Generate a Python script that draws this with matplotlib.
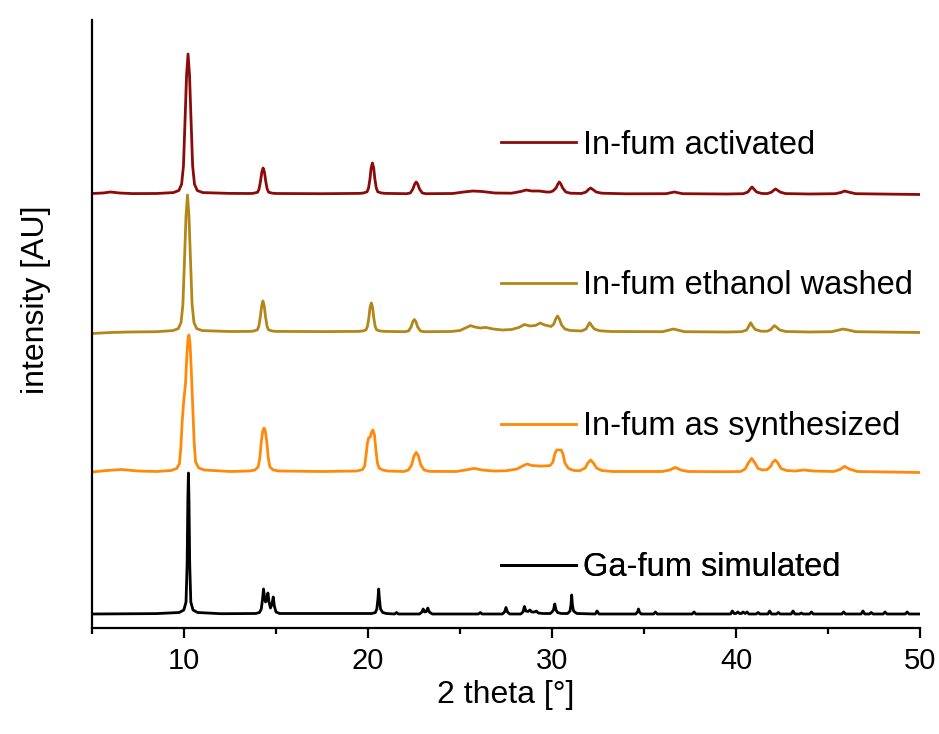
import matplotlib
matplotlib.use("Agg")
import matplotlib.pyplot as plt
from matplotlib.ticker import MultipleLocator
import numpy as np

plt.rcParams['font.family'] = ['Liberation Sans', 'DejaVu Sans']

# ---------------- data (intensity above each pattern's own baseline, AU) -------------
labels = ["In-fum activated", "In-fum ethanol washed", "In-fum as synthesized", "Ga-fum simulated"]
colors = ["#8b0a0a", "#b3861a", "#ff8a0a", "#000000"]
offsets = [434, 296, 156, 14]

act_x = [5.0, 5.6, 6.0, 6.5, 7.2, 8.5, 9.42, 9.72, 9.87, 9.97, 10.05, 10.14, 10.22, 10.30, 10.39, 10.47, 10.57, 10.72,
         11.02, 12.5,
         13.6, 13.8, 14.0, 14.08, 14.16, 14.23, 14.3, 14.37, 14.44, 14.52, 14.6, 14.8, 15.0, 17.5,
         19.55, 19.75, 19.95, 20.03, 20.11, 20.17, 20.24, 20.31, 20.37, 20.45, 20.53, 20.73, 20.95,
         22.1, 22.3, 22.44, 22.54, 22.62, 22.70, 22.80, 22.95, 23.15,
         24.6, 25.2, 25.7, 26.2, 26.9, 27.8, 28.3, 28.6, 28.9, 29.3, 29.7,
         29.9, 30.05, 30.22, 30.32, 30.4, 30.48, 30.58, 30.75, 31.0,
         31.6, 31.85, 31.98, 32.1, 32.22, 32.4, 32.7, 34.0,
         36.2, 36.65, 37.1, 39.5,
         40.4, 40.65, 40.77, 40.87, 40.97, 41.12, 41.4,
         41.7, 41.93, 42.05, 42.15, 42.25, 42.42, 42.7, 44.0,
         45.4, 45.7, 45.9, 46.1, 46.5, 50.0]
act_y = [0.5, 1.0, 2.0, 1.0, 0.4, 0.5, 1.4, 3.5, 9.8, 28, 70, 119, 140, 119, 70, 28, 9.8, 3.5,
         1.4, 0.6,
         0.5, 0.8, 1.8, 5.0, 13, 22, 26, 22, 13, 5.0, 1.8, 0.8, 0.5, 0.3,
         0.6, 1.0, 2.2, 6.0, 15.5, 26, 31, 26, 15.5, 6.0, 2.2, 1.0, 0.6,
         0.3, 1, 5, 10, 12, 10, 5, 1, 0.3,
         0.5, 2.0, 3.0, 2.5, 1.0, 0.8, 2.5, 4.0, 3.0, 3.0, 2.0,
         2.0, 3.0, 6.0, 10, 12, 10, 6.0, 2.0, 0.8,
         0.5, 2.0, 4.5, 6.0, 4.5, 2.0, 0.8, 0.2,
         0.3, 2.0, 0.3, 0.0,
         0.3, 2.0, 5.0, 7.0, 5.0, 2.0, 0.5,
         0.4, 1.8, 3.8, 5.0, 3.8, 1.8, 0.4, 0.0,
         0.3, 1.5, 3.0, 2.0, 0.3, -0.5]

eth_x = [5.0, 6.0, 7.0, 8.5, 9.39, 9.69, 9.84, 9.94, 10.02, 10.11, 10.19, 10.27, 10.36, 10.44, 10.54, 10.69, 10.99, 12.5,
         13.6, 13.79, 13.99, 14.07, 14.15, 14.22, 14.29, 14.36, 14.43, 14.51, 14.59, 14.79, 15.0, 17.5,
         19.5, 19.7, 19.89, 19.97, 20.05, 20.11, 20.18, 20.25, 20.31, 20.39, 20.47, 20.67, 20.9,
         22.0, 22.2, 22.34, 22.44, 22.52, 22.6, 22.7, 22.85, 23.05,
         24.5, 25.0, 25.35, 25.57, 25.8, 26.1, 26.4, 26.8, 27.3, 27.8, 28.2, 28.5, 28.8, 29.1, 29.36, 29.6, 29.85,
         29.95, 30.1, 30.2, 30.3, 30.4, 30.52, 30.7, 31.0, 31.4,
         31.6, 31.85, 31.95, 32.05, 32.15, 32.3, 32.6, 33.2,
         36.0, 36.6, 37.2, 39.5,
         40.3, 40.58, 40.7, 40.8, 40.9, 41.05, 41.35,
         41.7, 41.9, 42.0, 42.1, 42.2, 42.38, 42.7, 44.0,
         45.2, 45.6, 45.8, 46.1, 46.5, 50.0]
eth_y = [-1.5, -0.5, 0.0, 0.3, 1.4, 3.4, 9.6, 27.4, 68.5, 116, 137, 116, 68.5, 27.4, 9.6, 3.4, 1.4, 0.5,
         0.6, 1.0, 2.2, 6.0, 15.5, 26, 31, 26, 15.5, 6.0, 2.2, 1.0, 0.6, 0.4,
         0.6, 1.0, 2.1, 5.6, 14.5, 24.7, 29, 24.7, 14.5, 5.6, 2.1, 1.0, 0.6,
         0.3, 1, 5, 10.5, 12.5, 10.5, 5, 1, 0.3,
         0.5, 1.5, 4.5, 6.4, 5.0, 4.0, 4.6, 3.0, 2.0, 2.5, 4.5, 7.5, 6.0, 6.5, 9.0, 7.0, 6.0,
         5.5, 8.0, 13, 16, 13, 7.0, 3.0, 1.5, 1.2,
         1.0, 3.0, 6.5, 9.3, 6.5, 3.0, 1.2, 0.5,
         0.3, 3.0, 0.3, 0.0,
         0.3, 2.0, 6.0, 9.3, 6.0, 2.5, 0.8,
         0.8, 2.5, 4.8, 6.4, 4.8, 2.0, 0.5, 0.0,
         0.3, 2.0, 3.0, 2.0, 0.3, -0.5]

syn_x = [5.0, 5.8, 6.6, 7.5, 8.5, 9.3, 9.6, 9.75, 9.83, 9.9, 9.98, 10.08, 10.16, 10.22, 10.27, 10.33, 10.4, 10.47,
         10.55, 10.63, 10.8, 11.1, 12.5,
         13.55, 13.85, 14.03, 14.12, 14.2, 14.28, 14.35, 14.42, 14.5, 14.58, 14.67, 14.85, 15.15, 17.5,
         19.4, 19.7, 19.82, 19.9, 19.96, 20.03, 20.12, 20.2, 20.27, 20.35, 20.43, 20.51, 20.6, 20.8, 21.05,
         21.95, 22.2, 22.37, 22.5, 22.62, 22.74, 22.87, 23.05, 23.35,
         24.8, 25.3, 25.77, 26.2, 26.8, 27.5, 28.1, 28.4, 28.64, 28.9, 29.3, 29.6, 29.9,
         30.05, 30.15, 30.25, 30.5, 30.6, 30.7, 30.9, 31.2,
         31.5, 31.8, 31.95, 32.1, 32.25, 32.42, 32.7, 33.3,
         36.0, 36.4, 36.7, 37.0, 37.4, 39.5,
         40.25, 40.5, 40.67, 40.85, 41.03, 41.2, 41.45,
         41.7, 41.9, 42.0, 42.13, 42.26, 42.45, 42.75, 43.2, 43.7, 44.2,
         45.3, 45.65, 45.9, 46.15, 46.6, 50.0]
syn_y = [0.0, 1.5, 2.5, 1.0, 0.5, 1.5, 3.5, 8.0, 25, 50, 70, 88, 118, 134, 137, 128, 100, 68,
         30, 10, 4.0, 2.0, 0.5,
         1.0, 2.0, 5.0, 14, 30, 41, 44, 41, 30, 14, 5.0, 2.0, 1.0, 0.5,
         1.0, 2.5, 6.0, 18, 28, 34, 35, 40, 42, 37, 22, 9.0, 4.0, 2.0, 1.0,
         0.5, 2.0, 7.0, 16, 19.6, 16, 7.0, 2.0, 0.6,
         0.5, 2.0, 3.6, 2.0, 1.0, 1.2, 3.0, 6.0, 8.0, 6.5, 6.0, 6.0, 6.5,
         10, 18, 22, 22, 18, 9.0, 3.5, 1.5,
         1.2, 4.0, 9.0, 12, 9.0, 4.0, 1.5, 0.5,
         0.5, 2.0, 4.6, 2.0, 0.5, 0.3,
         0.5, 3.0, 9.0, 13.6, 9.0, 3.5, 2.0,
         2.5, 6.0, 10, 12, 9.5, 3.5, 1.5, 1.0, 2.0, 1.0,
         0.5, 2.5, 5.7, 3.0, 0.5, -0.5]

sim_x = [5.0, 8.5, 9.74, 9.99, 10.11, 10.17, 10.21, 10.24, 10.27, 10.31, 10.37, 10.49, 10.74, 12.0,
         13.9, 14.1, 14.2, 14.27, 14.32, 14.37, 14.43, 14.5, 14.56, 14.62, 14.7, 14.78, 14.85, 14.91, 15.0, 15.2,
         20.2, 20.4, 20.48, 20.54, 20.58, 20.62, 20.68, 20.8, 21.0,
         21.45, 21.55, 21.65,
         22.8, 22.93, 23.0, 23.08, 23.17, 23.25, 23.33, 23.5,
         26.0, 26.1, 26.2,
         27.3, 27.42, 27.5, 27.58, 27.7,
         28.3, 28.42, 28.5, 28.58, 28.7, 28.8, 28.9, 29.05, 29.15, 29.25, 29.5,
         29.9, 30.0, 30.08, 30.15, 30.22, 30.3, 30.5,
         30.85, 30.98, 31.03, 31.07, 31.11, 31.17, 31.35,
         32.35, 32.45, 32.55,
         34.55, 34.65, 34.7, 34.75, 34.85,
         35.52, 35.62, 35.72,
         37.62, 37.72, 37.82,
         39.7, 39.8, 39.9, 40.0, 40.1, 40.2, 40.3, 40.38, 40.5, 40.6, 40.7,
         41.1, 41.2, 41.3, 41.73, 41.83, 41.93, 42.2, 42.3, 42.4,
         43.0, 43.1, 43.2, 43.45, 43.55, 43.65, 44.0, 44.1, 44.2,
         45.75, 45.85, 45.95, 46.8, 46.9, 47.0, 47.25, 47.35, 47.45,
         48.0, 48.1, 48.2, 49.2, 49.3, 49.4, 50.0]
sim_y = [0.0, 0.4, 1.5, 4.0, 12, 50, 115, 141, 115, 50, 12, 4.0, 1.5, 0.3,
         0.5, 1.5, 5.0, 15, 25, 18, 12, 14, 21, 12, 6.0, 10, 17, 8.0, 2.0, 0.5,
         0.5, 1.5, 5.0, 15, 25, 15, 5.0, 1.5, 0.5,
         0.0, 1.5, 0.0,
         0.0, 2.0, 5.0, 2.0, 2.5, 6.0, 2.0, 0.0,
         0.0, 1.5, 0.0,
         0.0, 2.0, 6.5, 2.0, 0.0,
         0.0, 2.0, 7.5, 3.0, 2.5, 4.0, 2.0, 2.0, 3.0, 1.0, 0.5,
         0.5, 2.0, 4.0, 10, 4.0, 1.5, 0.5,
         0.5, 3.0, 9.0, 19, 9.0, 3.0, 0.5,
         0.0, 3.0, 0.0,
         0.0, 2.0, 5.0, 2.0, 0.0,
         0.0, 2.0, 0.0,
         0.0, 2.0, 0.0,
         0.0, 3.0, 0.5, 0.5, 2.0, 0.5, 0.5, 2.0, 0.5, 2.0, 0.0,
         0.0, 1.5, 0.0, 0.0, 3.0, 0.0, 0.0, 1.5, 0.0,
         0.0, 3.0, 0.0, 0.0, 1.0, 0.0, 0.0, 2.0, 0.0,
         0.0, 2.0, 0.0, 0.0, 3.0, 0.0, 0.0, 1.5, 0.0,
         0.0, 2.0, 0.0, 0.0, 2.0, 0.0, 0.0]

series_x = [act_x, eth_x, syn_x, sim_x]
series_y = [act_y, eth_y, syn_y, sim_y]

xticks_major = [10, 20, 30, 40, 50]

# ---------------- figure ----------------
fig = plt.figure(figsize=(9.39, 7.34), dpi=100)
ax = fig.add_axes([92 / 939, 106 / 734, 828 / 939, 608 / 734])

handles = []
for xs, ys, off, col, lab in zip(series_x, series_y, offsets, colors, labels):
    line, = ax.plot(xs, np.asarray(ys) + off, color=col, lw=2.0, solid_joinstyle='round', label=lab)
    handles.append(line)

ax.set_xlim(5, 50)
ax.set_ylim(0, 608)

for s in ['top', 'right']:
    ax.spines[s].set_visible(False)
for s in ['left', 'bottom']:
    ax.spines[s].set_linewidth(1.6)

ax.set_yticks([])
ax.set_xticks(xticks_major)
ax.xaxis.set_minor_locator(MultipleLocator(5))
ax.tick_params(axis='x', which='major', direction='out', length=7.5, width=1.6, labelsize=21, pad=6)
ax.tick_params(axis='x', which='minor', direction='out', length=4, width=1.6)

ax.set_xlabel("2 theta [°]", fontsize=23, labelpad=4)
ax.set_ylabel("intensity [AU]", fontsize=23)
ax.yaxis.set_label_coords(-0.049, 0.54)

# per-trace legend entries placed next to each pattern
legend_y = [483, 342.5, 201, 60]
for h, yy in zip(handles, legend_y):
    leg = ax.legend(handles=[h], loc='center left',
                    bbox_to_anchor=(27.25, yy), bbox_transform=ax.transData,
                    frameon=False, fontsize=23.5, handlelength=2.3, handletextpad=0.2,
                    borderpad=0, borderaxespad=0)
    ax.add_artist(leg)

fig.savefig("out.png", dpi=100, facecolor='white')
